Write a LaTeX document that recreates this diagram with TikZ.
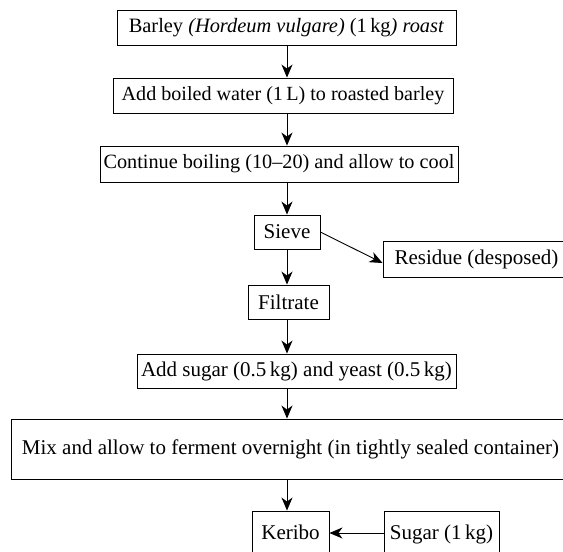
\documentclass[tikz,border=0pt]{standalone}
\usepackage{fontspec}
\setmainfont{Liberation Serif}
\usetikzlibrary{arrows.meta,calc}
\begin{document}
\begin{tikzpicture}[x=1pt,y=-1pt,
  box/.style={draw, line width=0.9pt, inner sep=0pt, font=\fontsize{21}{24}\selectfont},
  fs/.style={font=\fontsize{#1}{24}\selectfont},
  arr/.style={-{Stealth[length=13pt,width=11pt,inset=4pt]}, line width=0.9pt}]
\useasboundingbox (0,0) rectangle (563,552);
\coordinate (sp) at (287,0);
\node[box, fs=20.4, minimum width=339pt, minimum height=35pt] (b1) at (286.5,27.5) {Barley \textit{(Hordeum vulgare)} (1\,kg\textit{) roast}};
\node[box, fs=20.1, minimum width=340pt, minimum height=35pt] (b2) at (283,95.5) {Add boiled water (1\,L) to roasted barley};
\node[box, fs=20.25, minimum width=358pt, minimum height=36pt] (b3) at (279,164) {Continue boiling (10--20) and allow to cool};
\node[box, minimum width=66pt, minimum height=34pt] (sv) at (287,232) {Sieve};
\node[box, minimum width=187pt, minimum height=36pt] (rs) at (476.5,259) {Residue (desposed)};
\node[box, minimum width=81pt, minimum height=34pt] (ft) at (288.5,302) {Filtrate};
\node[box, minimum width=319pt, minimum height=34pt] (as) at (296.5,371) {Add sugar (0.5\,kg) and yeast (0.5\,kg)};
\node[box, minimum width=559pt, minimum height=60pt] (mx) at (290.5,449) {Mix and allow to ferment overnight (in tightly sealed container)};
\node[box, minimum width=77pt, minimum height=46pt] (kb) at (290.5,534) {\raisebox{3pt}{Keribo}};
\node[box, minimum width=115pt, minimum height=46pt] (sg) at (441.5,534) {\raisebox{1pt}{Sugar (1\,kg)}};
\draw[arr] (b1.south -| sp) -- (b2.north -| sp);
\draw[arr] (b2.south -| sp) -- (b3.north -| sp);
\draw[arr] (b3.south -| sp) -- (sv.north -| sp);
\draw[arr] (sv.south -| sp) -- (ft.north -| sp);
\draw[arr] (ft.south -| sp) -- (as.north -| sp);
\draw[arr] (as.south -| sp) -- (mx.north -| sp);
\draw[arr] (mx.south -| sp) -- (kb.north -| sp);
\draw[arr] (sv.east) -- ($(rs.west)+(0,4)$);
\draw[arr] ($(sg.west)+(0,-1)$) -- ($(kb.east)+(0,-1)$);
\end{tikzpicture}
\end{document}
